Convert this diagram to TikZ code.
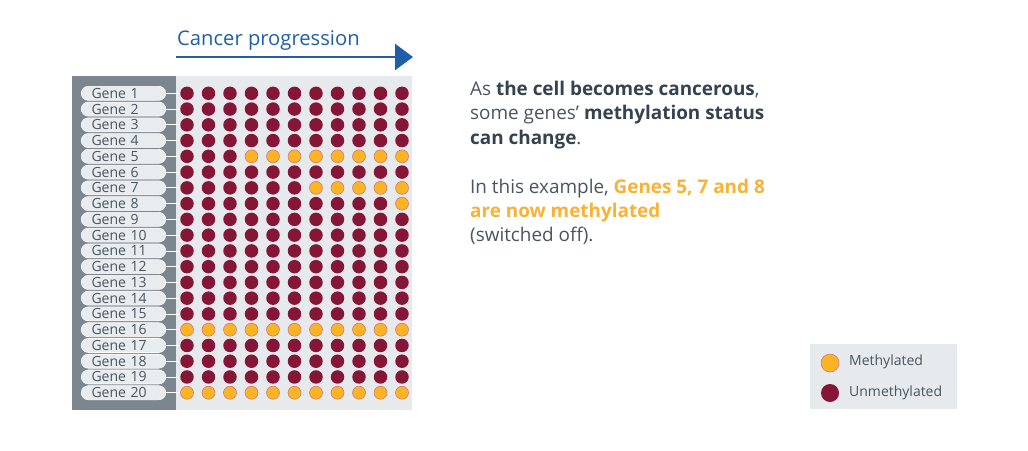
\documentclass[tikz,border=0pt]{standalone}
\usepackage{fontspec}
\setmainfont{Open Sans}
\usetikzlibrary{arrows.meta,shapes.misc}
\definecolor{panel}{HTML}{7B868F}
\definecolor{bgl}{HTML}{E6EAEC}
\definecolor{pillc}{HTML}{E8ECEE}
\definecolor{darkred}{HTML}{861637}
\definecolor{orng}{HTML}{FBB424}
\definecolor{orngedge}{HTML}{D36A7E}
\definecolor{progblue}{HTML}{1F5FA8}
\definecolor{txt}{HTML}{4A5560}
\definecolor{txtb}{HTML}{36434E}
\definecolor{hl}{HTML}{F9B233}
\tikzset{
  pill/.style={rounded rectangle, fill=pillc, draw=white, line width=0.6pt,
    minimum width=81pt, minimum height=14pt, inner xsep=8pt, inner ysep=0pt,
    text width=64pt, align=left, font=\fontsize{14}{14}\selectfont, text=txt},
  meth/.style={circle, fill=orng, draw=orngedge, line width=0.5pt, minimum size=13pt, inner sep=0pt},
  unmeth/.style={circle, fill=darkred, minimum size=13.5pt, inner sep=0pt},
  link/.style={draw=white, line width=0.8pt},
  bodytext/.style={anchor=base west, inner sep=0pt, font=\fontsize{18.9}{20}\selectfont, text=txt},
  legtext/.style={anchor=west, inner sep=0pt, font=\fontsize{14}{16}\selectfont, text=txt}
}
\begin{document}
\begin{tikzpicture}[x=1pt,y=-1pt]
\useasboundingbox (0,0) rectangle (1028,450);
\fill[white] (0,0) rectangle (1028,450);
% title + arrow
\node[anchor=base west, inner sep=0pt, font=\fontsize{20.2}{22}\selectfont, text=progblue] (title) at (177,45) {Cancer progression};
\coordinate (arS) at (176,57);
\coordinate (arE) at (413,57);
\draw[progblue, line width=2.6pt, -{Triangle[length=18pt,width=26pt]}] (arS) -- (arE);
% panels
\fill[panel] (72,76) rectangle (176,410);
\fill[bgl] (176,76) rectangle (412,410);
% rows
\foreach \i/\s in {1/12,2/12,3/12,4/12,5/4,6/12,7/7,8/11,9/12,10/12,11/12,12/12,13/12,14/12,15/12,16/1,17/12,18/12,19/12,20/1}{
  \pgfmathsetmacro{\yy}{93.3+(\i-1)*15.76}
  \foreach \j in {1,...,11}{
    \pgfmathsetmacro{\xx}{187+(\j-1)*21.5}
    \ifnum\j<\s
      \node[unmeth] (d\i-\j) at (\xx,\yy) {};
    \else
      \node[meth] (d\i-\j) at (\xx,\yy) {};
    \fi
  }
  \node[pill] (g\i) at (123.5,\yy) {Gene \i};
  \draw[link] (g\i.east) -- (d\i-1.west);
}
% right text
\node[bodytext] (t1) at (470,95) {As \textbf{\color{txtb}the cell becomes cancerous},};
\node[bodytext] (t2) at (470,119.5) {some genes’ \textbf{\color{txtb}methylation status}};
\node[bodytext] (t3) at (470,144) {\textbf{\color{txtb}can change}.};
\node[bodytext] (t4) at (470,193) {In this example, \textbf{\color{hl}Genes 5, 7 and 8}};
\node[bodytext] (t5) at (470,217) {\textbf{\color{hl}are now methylated}};
\node[bodytext] (t6) at (470,241) {(switched off).};
% legend
\fill[bgl] (810,344) rectangle (957,409);
\node[meth, minimum size=18pt] (lm) at (830,363) {};
\node[unmeth, minimum size=18pt] (lu) at (830,393) {};
\node[legtext] (lmt) at (849,362) {Methylated};
\node[legtext] (lut) at (849,393) {Unmethylated};
\end{tikzpicture}
\end{document}
